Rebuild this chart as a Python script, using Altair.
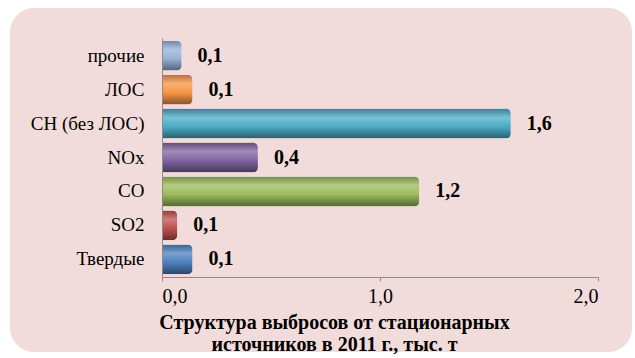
import altair as alt
import pandas as pd

categories = ["прочие", "ЛОС", "CH (без ЛОС)", "NOx", "CO", "SO2", "Твердые"]
values = [0.09, 0.14, 1.60, 0.44, 1.18, 0.07, 0.14]
colors = ["#95B3D7", "#F79646", "#4BACC6", "#8064A2", "#9BBB59", "#C0504D", "#4F81BD"]
x_ticks = [0, 1, 2]
title_lines = ["Структура выбросов от стационарных", "источников в 2011 г., тыс. т"]

FONT = "Liberation Serif"

df = pd.DataFrame({"cat": categories, "val": values})
df["lbl"] = [f"{v:.1f}".replace(".", ",") for v in values]


def mix(hex_color, target, t):
    h = hex_color.lstrip("#")
    rgb = [int(h[i:i + 2], 16) for i in (0, 2, 4)]
    out = [round(c + (target - c) * t) for c in rgb]
    return "#" + "".join(f"{c:02x}" for c in out)


base = alt.Chart(df)
y_enc = alt.Y("cat:N", sort=categories, title=None,
              scale=alt.Scale(paddingInner=0.12, paddingOuter=0.08),
              axis=alt.Axis(labelFont=FONT, labelFontSize=19, labelColor="#000000",
                            ticks=False, domainColor="#8c8c8c", labelPadding=18, zindex=1))
x_enc = alt.X("val:Q", title=title_lines,
              scale=alt.Scale(domain=[0, 2], nice=False),
              axis=alt.Axis(values=x_ticks, grid=False, labelExpr="replace(format(datum.value,'.1f'),'.',',')",
                            labelFont=FONT, labelFontSize=20, labelColor="#000000",
                            tickSize=4, tickColor="#8c8c8c", domainColor="#8c8c8c", labelPadding=5,
                            titleFont=FONT, titleFontSize=20, titleFontWeight="bold",
                            titleColor="#000000", titleX=172, titleAnchor="start", titleAlign="center",
                            titleY=35, titleBaseline="top", titleLineHeight=22, zindex=1))

bg = alt.Chart(pd.DataFrame({"a": [0]})).mark_rect(
    color="#F2DCDB", cornerRadius=24
).encode(x=alt.value(-152), x2=alt.value(470), y=alt.value(-30), y2=alt.value(314))

layers = [bg]
for cat, col in zip(categories, colors):
    grad = alt.LinearGradient(
        gradient="linear", x1=0, x2=0, y1=0, y2=1,
        stops=[
            alt.GradientStop(color=mix(col, 0, 0.25), offset=0),
            alt.GradientStop(color=mix(col, 255, 0.25), offset=0.3),
            alt.GradientStop(color=col, offset=0.6),
            alt.GradientStop(color=mix(col, 0, 0.45), offset=1),
        ],
    )
    layers.append(
        base.transform_filter(alt.datum.cat == cat)
        .mark_bar(color=grad, cornerRadiusEnd=5)
        .encode(y=y_enc, x=x_enc)
    )

labels = base.mark_text(align="left", baseline="middle", dx=16, font=FONT,
                        fontSize=20, fontWeight="bold", color="#000000").encode(
    y=alt.Y("cat:N", sort=categories), x="val:Q", text="lbl:N")
layers.append(labels)

chart = alt.layer(*layers).properties(
    width=436, height=239,
    autosize=alt.AutoSizeParams(type="none"),
    padding={"left": 162, "top": 38, "right": 37, "bottom": 81},
    background="#ffffff",
).configure_view(stroke=None)

chart.save("out.html", embed_options={"renderer": "svg", "actions": False})
